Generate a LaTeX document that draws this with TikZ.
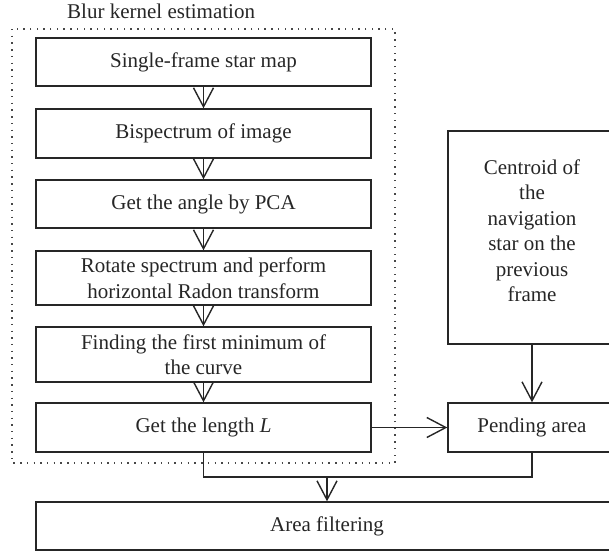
\documentclass[tikz,border=0pt]{standalone}
\usepackage{fontspec}
\setmainfont{Liberation Serif}
\usetikzlibrary{arrows.meta,calc}
\definecolor{ink}{HTML}{262626}
\tikzset{
  box/.style={draw=ink, line width=1.4pt, inner sep=0pt, align=center, text=ink,
    font=\fontsize{21}{25.5}\selectfont},
  arr/.style={draw=ink, line width=1.4pt, -{Straight Barb[length=19pt,width=20pt,line width=1.4pt]}},
  conn/.style={draw=ink, line width=1.4pt},
  dotbox/.style={draw=ink!85, line width=1.4pt, dash pattern=on 1.4pt off 5.3pt},
}
\begin{document}
\begin{tikzpicture}[x=1pt,y=-1pt]
\useasboundingbox (0,0) rectangle (609,555);
\clip (0,0) rectangle (609,555);
% dotted group
\draw[dotbox] (12,29) rectangle (395,463);
\node[anchor=base west, text=ink, font=\fontsize{21}{25.5}\selectfont, inner sep=0pt] (title) at (67,18) {Blur kernel estimation};
% left column boxes
\node[box, minimum width=335pt, minimum height=48pt] (b1) at (203.5,62) {Single-frame star map};
\node[box, minimum width=335pt, minimum height=49pt] (b2) at (203.5,133.5) {Bispectrum of image};
\node[box, minimum width=335pt, minimum height=48pt] (b3) at (203.5,204) {Get the angle by PCA};
\node[box, minimum width=335pt, minimum height=54pt] (b4) at (203.5,278) {Rotate spectrum and perform\\horizontal Radon transform};
\node[box, minimum width=335pt, minimum height=55pt] (b5) at (203.5,354.5) {Finding the first minimum of\\the curve};
\node[box, minimum width=335pt, minimum height=49pt] (b6) at (203.5,427.5) {Get the length \textit{L}};
% right column
\node[box, minimum width=168pt, minimum height=213pt] (cent) at (532,237.5) {Centroid of\\the\\navigation\\star on the\\previous\\frame\\[-12pt]\mbox{}};
\node[box, minimum width=168pt, minimum height=49pt] (pend) at (532,427.5) {Pending area};
% bottom
\node[box, minimum width=582pt, minimum height=48pt] (area) at (327,526) {Area filtering};
% connectors
\draw[arr] (b1.south) -- (b2.north);
\draw[arr] (b2.south) -- (b3.north);
\draw[arr] (b3.south) -- (b4.north);
\draw[arr] (b4.south) -- (b5.north);
\draw[arr] (b5.south) -- (b6.north);
\draw[arr] (b6.east) -- (pend.west);
\draw[arr] (cent.south) -- (pend.north);
\coordinate (jl) at (203.5,477);
\coordinate (jr) at (532,477);
\coordinate (jm) at (327,477);
\draw[conn] (b6.south) -- (jl) -- (jr) -- (pend.south);
\draw[arr] (jm) -- (area.north);
\end{tikzpicture}
\end{document}
